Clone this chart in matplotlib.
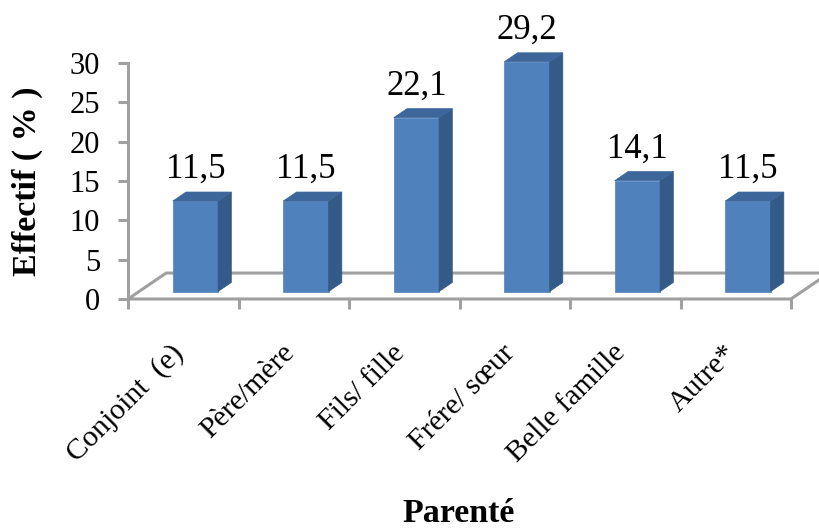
import matplotlib
matplotlib.use("Agg")
import matplotlib.pyplot as plt
from matplotlib.patches import Polygon

# Répartition selon le lien de parenté (%)
categories = ["Conjoint  (e)", "Père/mère", "Fils/ fille", "Frére/ sœur", "Belle famille", "Autre*"]
values = [11.5, 11.5, 22.1, 29.2, 14.1, 11.5]
value_labels = ["11,5", "11,5", "22,1", "29,2", "14,1", "11,5"]
yticks = [0, 5, 10, 15, 20, 25, 30]

plt.rcParams["font.family"] = ["Liberation Serif", "DejaVu Serif"]

FRONT = "#4F81BD"
SIDE = "#345A88"
TOP = "#3D679B"
GRID = "#A0A0A0"

fig = plt.figure(figsize=(8.19, 5.30), dpi=100)
ax = fig.add_axes([128 / 819, 1 - 299 / 530, (791 - 128) / 819, (299 - 63) / 530])
ax.set_xlim(0, len(categories))
ax.set_ylim(0, 30)

# pseudo-3D: floor depth and bar depth in data units
floor_dx, floor_dy = 0.345, 3.3
bar_w = 0.41
off_x, off_y = 0.11, 0.95     # bars sit a bit behind the front edge
depth_dx, depth_dy = 0.12, 1.15

n = len(categories)
floor = Polygon([(0, 0), (n, 0), (n + floor_dx, floor_dy), (floor_dx, floor_dy)],
                closed=True, facecolor="white", edgecolor=GRID, lw=2.2,
                clip_on=False, zorder=1)
ax.add_patch(floor)

for i, (v, lab) in enumerate(zip(values, value_labels)):
    cx = i + 0.5 + off_x
    x0, x1 = cx - bar_w / 2, cx + bar_w / 2
    b = off_y
    ax.bar(cx, v, width=bar_w, bottom=b, color=FRONT, edgecolor=FRONT,
           lw=0.5, zorder=3, clip_on=False)
    side = Polygon([(x1, b), (x1 + depth_dx, b + depth_dy),
                    (x1 + depth_dx, b + v + depth_dy), (x1, b + v)],
                   closed=True, facecolor=SIDE, edgecolor=SIDE, lw=0.5,
                   zorder=3, clip_on=False)
    top = Polygon([(x0, b + v), (x0 + depth_dx, b + v + depth_dy),
                   (x1 + depth_dx, b + v + depth_dy), (x1, b + v)],
                  closed=True, facecolor=TOP, edgecolor=TOP, lw=0.5,
                  zorder=3, clip_on=False)
    ax.add_patch(side)
    ax.add_patch(top)
    ax.annotate(lab, xy=(cx, b + v + depth_dy), xytext=(0, 10),
                textcoords="offset points", ha="center", va="baseline",
                fontsize=25, annotation_clip=False)
    ax.annotate(categories[i], xy=(i + 0.5, 0), xytext=(4, -29.5),
                textcoords="offset points", ha="right", va="top",
                rotation=45, fontsize=21.5, annotation_clip=False)

for s in ["top", "right", "bottom"]:
    ax.spines[s].set_visible(False)
ax.spines["left"].set_color(GRID)
ax.spines["left"].set_linewidth(2.2)

ax.set_yticks(yticks)
ax.set_yticklabels([str(t) for t in yticks], fontsize=22)
ax.tick_params(axis="y", length=7, width=2.2, color=GRID, pad=13)
ax.set_xticks(range(n + 1))
ax.set_xticklabels([])
ax.tick_params(axis="x", direction="out", length=7.5, width=2.2, color=GRID)
ax.patch.set_alpha(0)

fig.text(27 / 819, 1 - 181 / 530, "Effectif ( % )", rotation=90, ha="center",
         va="center", fontsize=24.5, fontweight="bold")
fig.text(459 / 819, 1 - 522 / 530, "Parenté", ha="center", va="baseline",
         fontsize=24.5, fontweight="bold")

fig.savefig("out.png", dpi=100)
